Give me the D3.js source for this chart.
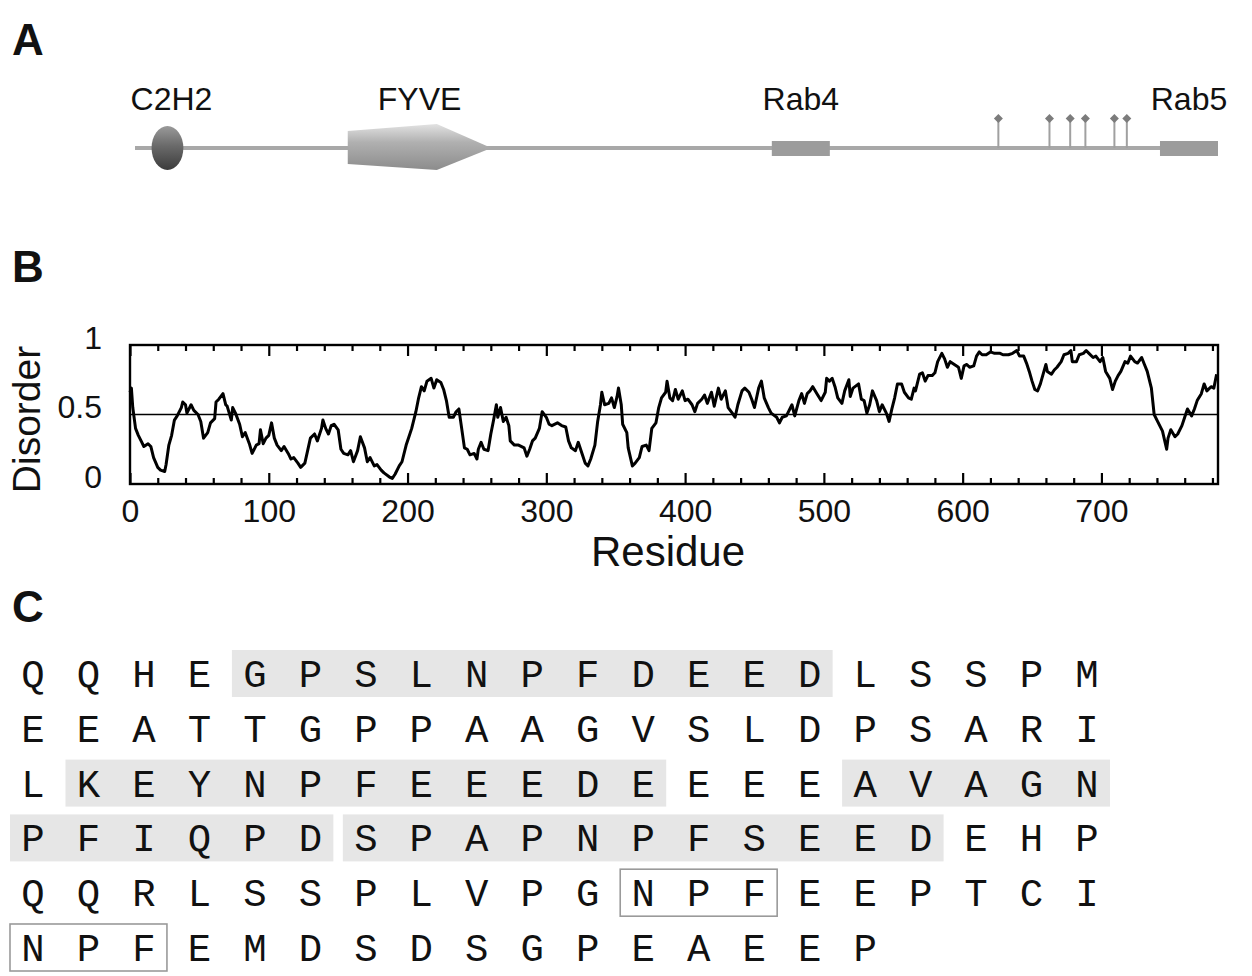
<!DOCTYPE html>
<html>
<head>
<meta charset="utf-8">
<script src="https://cdn.jsdelivr.net/npm/d3@7"></script>
<style>
  body { margin: 0; background: #fff; }
  svg { display: block; }
  .sans { font-family: "Liberation Sans", Arial, Helvetica, sans-serif; }
  .mono { font-family: "Liberation Mono", "Courier New", monospace; }
</style>
</head>
<body>
<svg id="fig" width="1252" height="976"></svg>
<script>
// ---------- Panel A: domain architecture ----------
const proteinLength = 784;
const domainNames = ["C2H2", "FYVE", "Rab4", "Rab5"];
const domainKinds = ["ellipse", "arrow", "bar", "bar"];
const domainStart = [12, 154, 461, 742];
const domainEnd = [35, 258, 503, 784];
const motifSites = [625, 662, 677, 688, 709, 718];

// ---------- Panel B: disorder prediction ----------
const residues = [0,1,2,4,6,8,10,13,15,17,20,22,25,26,28,30,32,34,37,38,40,41,44,46,49,51,53,56,58,61,62,64,67,69,70,73,74,76,79,81,83,86,88,91,93,94,96,98,100,102,104,106,109,111,114,116,118,121,123,126,128,130,133,135,138,139,141,143,145,147,150,152,154,157,159,161,164,166,169,171,173,176,178,181,183,187,189,191,194,196,199,201,203,206,208,210,212,214,217,219,221,224,226,228,230,233,235,237,239,241,243,245,248,250,251,253,255,258,260,262,264,265,267,269,271,273,274,277,280,284,286,288,290,292,295,297,300,302,304,308,311,314,316,318,321,323,326,328,330,332,335,337,339,340,342,345,347,349,351,352,354,355,358,359,362,364,367,369,372,374,376,379,381,383,386,387,389,391,393,395,398,400,402,405,407,409,412,414,416,419,421,424,426,429,431,434,436,438,441,443,446,448,450,453,455,457,460,462,466,468,470,473,477,479,482,484,486,488,490,492,495,498,501,502,504,506,508,510,513,515,518,519,521,525,527,529,531,533,535,538,540,542,545,547,549,551,553,556,558,561,563,565,566,569,571,573,575,578,580,582,585,587,589,591,594,597,599,601,603,605,608,610,612,614,617,620,623,627,629,633,636,639,641,644,646,648,650,652,654,656,658,660,661,664,666,668,671,673,676,678,679,682,684,687,689,691,694,696,699,701,703,706,708,710,712,714,717,719,721,724,726,729,731,733,736,738,740,742,744,747,748,750,753,755,758,760,762,765,767,769,772,774,776,779,781,783];
const disorder = [0.66,0.69,0.55,0.40,0.35,0.31,0.27,0.29,0.27,0.19,0.12,0.10,0.09,0.14,0.28,0.35,0.46,0.49,0.55,0.59,0.57,0.51,0.57,0.53,0.50,0.45,0.33,0.37,0.44,0.47,0.59,0.61,0.65,0.57,0.56,0.46,0.55,0.51,0.43,0.34,0.37,0.29,0.22,0.28,0.29,0.39,0.29,0.33,0.35,0.44,0.33,0.28,0.24,0.27,0.22,0.18,0.19,0.15,0.12,0.15,0.24,0.33,0.36,0.31,0.40,0.46,0.40,0.36,0.42,0.43,0.39,0.25,0.22,0.21,0.24,0.16,0.24,0.34,0.26,0.16,0.19,0.13,0.14,0.10,0.08,0.05,0.04,0.07,0.13,0.16,0.28,0.34,0.40,0.52,0.62,0.70,0.67,0.74,0.76,0.69,0.75,0.73,0.68,0.60,0.48,0.48,0.52,0.54,0.40,0.26,0.25,0.21,0.22,0.18,0.25,0.30,0.25,0.24,0.36,0.46,0.57,0.48,0.55,0.45,0.48,0.42,0.31,0.28,0.28,0.26,0.20,0.25,0.31,0.33,0.40,0.52,0.48,0.43,0.42,0.44,0.42,0.41,0.31,0.26,0.24,0.30,0.21,0.15,0.13,0.18,0.28,0.45,0.57,0.66,0.57,0.58,0.62,0.55,0.63,0.69,0.57,0.43,0.37,0.26,0.13,0.15,0.19,0.27,0.28,0.24,0.40,0.44,0.55,0.62,0.66,0.74,0.62,0.60,0.68,0.61,0.67,0.60,0.61,0.57,0.52,0.58,0.61,0.64,0.58,0.66,0.56,0.69,0.61,0.67,0.55,0.51,0.48,0.57,0.67,0.69,0.66,0.61,0.55,0.69,0.74,0.62,0.55,0.51,0.48,0.44,0.48,0.49,0.57,0.49,0.60,0.65,0.58,0.65,0.67,0.70,0.65,0.60,0.66,0.76,0.74,0.76,0.70,0.62,0.58,0.67,0.75,0.63,0.69,0.72,0.61,0.60,0.51,0.57,0.67,0.60,0.52,0.57,0.51,0.45,0.54,0.62,0.72,0.72,0.66,0.62,0.61,0.69,0.67,0.79,0.80,0.74,0.78,0.78,0.80,0.88,0.94,0.90,0.84,0.88,0.86,0.84,0.76,0.85,0.86,0.84,0.85,0.92,0.95,0.93,0.93,0.95,0.94,0.94,0.93,0.93,0.94,0.96,0.92,0.92,0.87,0.81,0.74,0.68,0.67,0.72,0.79,0.86,0.81,0.79,0.82,0.84,0.88,0.93,0.94,0.96,0.88,0.88,0.93,0.94,0.96,0.94,0.91,0.92,0.88,0.91,0.81,0.76,0.68,0.74,0.78,0.81,0.88,0.87,0.92,0.88,0.87,0.91,0.86,0.81,0.69,0.50,0.46,0.42,0.38,0.25,0.33,0.39,0.34,0.36,0.42,0.48,0.54,0.49,0.54,0.60,0.65,0.72,0.67,0.70,0.69,0.79];
const threshold = 0.5;
const xMajorTicks = [0, 100, 200, 300, 400, 500, 600, 700];
const yTickValues = [0, 0.5, 1];
const yTickLabels = ["0", "0.5", "1"];

// ---------- Panel C: sequence ----------
const sequenceRows = [
  "QQHEGPSLNPFDEEDLSSPM",
  "EEATTGPPAAGVSLDPSARI",
  "LKEYNPFEEEDEEEEAVAGN",
  "PFIQPDSPAPNPFSEEDEHP",
  "QQRLSSPLVPGNPFEEPTCI",
  "NPFEMDSDSGPEAEEP"
];
// [row, first column, last column]
const shadedRuns = [[0, 4, 14], [2, 1, 11], [2, 15, 19], [3, 0, 5], [3, 6, 16]];
const boxedRuns = [[4, 11, 13], [5, 0, 2]];

const svg = d3.select("#fig");
svg.append("rect").attr("width", 1252).attr("height", 976).attr("fill", "#fff");

// Panel letters
const panelLetters = ["A", "B", "C"];
const panelLetterY = [55, 282, 622];
svg.selectAll("text.panel").data(panelLetters).join("text")
  .attr("class", "panel sans")
  .attr("x", 12).attr("y", (d, i) => panelLetterY[i])
  .attr("font-size", 44).attr("font-weight", "bold")
  .attr("fill", "#111")
  .text(d => d);

// ---------- Panel A ----------
const defs = svg.append("defs");
const gEll = defs.append("linearGradient").attr("id", "gradZn").attr("x1", 0).attr("y1", 0).attr("x2", 0).attr("y2", 1);
gEll.append("stop").attr("offset", "0%").attr("stop-color", "#9a9a9a");
gEll.append("stop").attr("offset", "45%").attr("stop-color", "#6a6a6a");
gEll.append("stop").attr("offset", "100%").attr("stop-color", "#3c3c3c");
const gArr = defs.append("linearGradient").attr("id", "gradFyve").attr("x1", 0).attr("y1", 0).attr("x2", 0).attr("y2", 1);
gArr.append("stop").attr("offset", "0%").attr("stop-color", "#e2e2e2");
gArr.append("stop").attr("offset", "40%").attr("stop-color", "#b0b0b0");
gArr.append("stop").attr("offset", "100%").attr("stop-color", "#8c8c8c");

const xMap = d3.scaleLinear().domain([0, proteinLength]).range([135, 1218]);
const mapY = 148;
const gA = svg.append("g");

gA.append("line")
  .attr("x1", xMap(0)).attr("x2", xMap(proteinLength))
  .attr("y1", mapY).attr("y2", mapY)
  .attr("stroke", "#a8a8a8").attr("stroke-width", 4);

// motif stems with diamond heads
gA.selectAll("line.stem").data(motifSites).join("line")
  .attr("class", "stem")
  .attr("x1", d => xMap(d)).attr("x2", d => xMap(d))
  .attr("y1", mapY).attr("y2", 119)
  .attr("stroke", "#a0a0a0").attr("stroke-width", 2);
gA.selectAll("path.head").data(motifSites).join("path")
  .attr("class", "head")
  .attr("d", d => `M${xMap(d)},${114} l4.5,4.5 l-4.5,4.5 l-4.5,-4.5 Z`)
  .attr("fill", "#7c7c7c");

const domains = domainNames.map((n, i) => ({ name: n, kind: domainKinds[i], s: domainStart[i], e: domainEnd[i] }));
domains.forEach(d => {
  const x0 = xMap(d.s), x1 = xMap(d.e);
  if (d.kind === "ellipse") {
    gA.append("ellipse")
      .attr("cx", (x0 + x1) / 2).attr("cy", mapY)
      .attr("rx", (x1 - x0) / 2).attr("ry", 22)
      .attr("fill", "url(#gradZn)");
  } else if (d.kind === "arrow") {
    const xm = x0 + (x1 - x0) * 0.62;
    gA.append("path")
      .attr("d", `M${x0},${mapY - 17} L${xm},${mapY - 24} L${x1},${mapY} L${xm},${mapY + 22} L${x0},${mapY + 16} Z`)
      .attr("fill", "url(#gradFyve)");
  } else {
    gA.append("rect")
      .attr("x", x0).attr("y", mapY - 7)
      .attr("width", x1 - x0).attr("height", 15)
      .attr("fill", "#9c9c9c");
  }
  gA.append("text")
    .attr("class", "sans")
    .attr("x", (x0 + x1) / 2 + (d.kind === "ellipse" ? 4 : 0))
    .attr("y", 110)
    .attr("text-anchor", "middle")
    .attr("font-size", 32)
    .attr("fill", "#111")
    .text(d.name);
});

// ---------- Panel B ----------
const plot = { left: 130, right: 1218, top: 345, bottom: 484 };
const x = d3.scaleLinear().domain([0, proteinLength]).range([plot.left, plot.right]);
const y = d3.scaleLinear().domain([0, 1]).range([plot.bottom, plot.top]);
const gB = svg.append("g");

const minorTicks = d3.range(0, proteinLength + 1, 20).filter(v => v % 100 !== 0);

function tickAxis(axisFn, yPos, values, size) {
  const g = gB.append("g").attr("transform", `translate(0,${yPos})`)
    .call(axisFn(x).tickValues(values).tickSize(size).tickFormat(""));
  g.select(".domain").remove();
  g.selectAll(".tick line").attr("stroke", "#000").attr("stroke-width", 2.2);
  return g;
}
tickAxis(d3.axisBottom, plot.bottom, minorTicks, -6);
tickAxis(d3.axisBottom, plot.bottom, xMajorTicks, -11);
tickAxis(d3.axisTop, plot.top, minorTicks, -6);
tickAxis(d3.axisTop, plot.top, xMajorTicks, -11);

// tick labels along the bottom
const xLab = gB.append("g").attr("transform", `translate(0,${plot.bottom})`)
  .call(d3.axisBottom(x).tickValues(xMajorTicks).tickSize(0).tickPadding(15));
xLab.select(".domain").remove();
xLab.attr("font-family", null).attr("font-size", null);
xLab.selectAll("text").attr("class", "sans").attr("font-size", 32).attr("fill", "#111");

// y labels (sit slightly above their gridline, as in the printed figure)
gB.selectAll("text.ylab").data(yTickValues).join("text")
  .attr("class", "ylab sans")
  .attr("x", 102).attr("y", (d) => y(d) - 8)
  .attr("dy", "0.36em")
  .attr("text-anchor", "end")
  .attr("font-size", 32).attr("fill", "#111")
  .text((d, i) => yTickLabels[i]);

// threshold
gB.append("line")
  .attr("x1", plot.left).attr("x2", plot.right)
  .attr("y1", y(threshold)).attr("y2", y(threshold))
  .attr("stroke", "#000").attr("stroke-width", 1.6);

// disorder trace
const pts = residues.map((r, i) => [r, disorder[i]]);
gB.append("path")
  .datum(pts)
  .attr("fill", "none")
  .attr("stroke", "#000")
  .attr("stroke-width", 3)
  .attr("stroke-linejoin", "round")
  .attr("d", d3.line().x(d => x(d[0])).y(d => y(d[1])));

// frame
gB.append("rect")
  .attr("x", plot.left).attr("y", plot.top)
  .attr("width", plot.right - plot.left).attr("height", plot.bottom - plot.top)
  .attr("fill", "none").attr("stroke", "#000").attr("stroke-width", 2.4);

// axis titles
gB.append("text")
  .attr("class", "sans")
  .attr("transform", `translate(40,${(plot.top + plot.bottom) / 2 + 5}) rotate(-90)`)
  .attr("text-anchor", "middle")
  .attr("font-size", 39).attr("fill", "#111")
  .text("Disorder");
gB.append("text")
  .attr("class", "sans")
  .attr("x", 668).attr("y", 566)
  .attr("text-anchor", "middle")
  .attr("font-size", 42).attr("fill", "#111")
  .text("Residue");

// ---------- Panel C ----------
const nCols = 20;
const col = d3.scalePoint().domain(d3.range(nCols)).range([33, 1087]);
const row = d3.scalePoint().domain(d3.range(sequenceRows.length)).range([687, 961]);
const capH = 26;
const half = 23;
const gC = svg.append("g");

gC.selectAll("rect.shade").data(shadedRuns).join("rect")
  .attr("class", "shade")
  .attr("x", d => col(d[1]) - half)
  .attr("width", d => col(d[2]) - col(d[1]) + 2 * half)
  .attr("y", d => row(d[0]) - capH / 2 - 24)
  .attr("height", 47)
  .attr("fill", "#e6e6e6");

gC.selectAll("rect.box").data(boxedRuns).join("rect")
  .attr("class", "box")
  .attr("x", d => col(d[1]) - half)
  .attr("width", d => col(d[2]) - col(d[1]) + 2 * half)
  .attr("y", d => row(d[0]) - capH / 2 - 24)
  .attr("height", 47)
  .attr("fill", "none")
  .attr("stroke", "#9a9a9a").attr("stroke-width", 1.6);

const letters = [];
sequenceRows.forEach((s, r) => s.split("").forEach((ch, c) => letters.push({ r, c, ch })));
gC.selectAll("text.aa").data(letters).join("text")
  .attr("class", "aa mono")
  .attr("x", d => col(d.c))
  .attr("y", d => row(d.r))
  .attr("text-anchor", "middle")
  .attr("font-size", 39)
  .attr("fill", "#111")
  .text(d => d.ch);
</script>
</body>
</html>
